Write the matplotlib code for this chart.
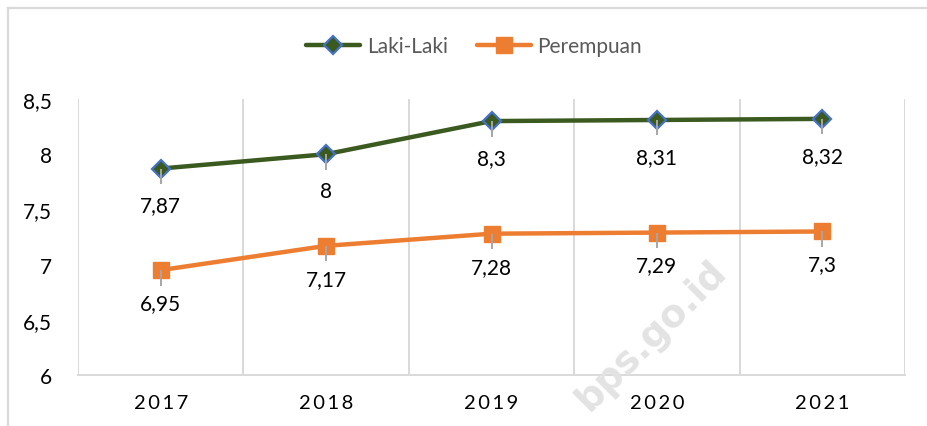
import matplotlib
matplotlib.use("Agg")
import matplotlib.pyplot as plt
from matplotlib.lines import Line2D

plt.rcParams['font.family'] = ['Lato', 'DejaVu Sans']

years = ["2017", "2018", "2019", "2020", "2021"]
laki = [7.87, 8.0, 8.3, 8.31, 8.32]
perempuan = [6.95, 7.17, 7.28, 7.29, 7.3]
y_ticks = [6, 6.5, 7, 7.5, 8, 8.5]

W, H, DPI = 927, 427, 100
fig = plt.figure(figsize=(W / DPI, H / DPI), dpi=DPI)
ax = fig.add_axes([78 / W, 1 - 376 / H, (905 - 78) / W, (376 - 100) / H])

x = list(range(len(years)))
green = "#3B5A1F"
orange = "#ED7D31"
grid_c = "#D9D9D9"
err_c = "#A6A6A6"

ax.plot(x, laki, color=green, lw=3.2, marker="D", ms=9, mfc=green,
        mec="#4472C4", mew=1.6, label="Laki-Laki", zorder=3,
        solid_capstyle="round")
ax.plot(x, perempuan, color=orange, lw=3.2, marker="s", ms=11.5, mfc=orange,
        mec=orange, label="Perempuan", zorder=3, solid_capstyle="round")

# short downward error whiskers
ax.errorbar(x, laki, yerr=[[0.14] * 5, [0] * 5], fmt="none", ecolor=err_c,
            elinewidth=1.4, capsize=0, zorder=4)
ax.errorbar(x, perempuan, yerr=[[0.14] * 5, [0] * 5], fmt="none", ecolor=err_c,
            elinewidth=1.4, capsize=0, zorder=4)

def fmt(v):
    s = ("%.2f" % v).rstrip("0").rstrip(".")
    return s.replace(".", ",")

for xi, v in zip(x, laki):
    ax.annotate(fmt(v), (xi, v), xytext=(0, -37), textcoords="offset pixels",
                ha="center", va="center", fontsize=15, color="#000000")
for xi, v in zip(x, perempuan):
    ax.annotate(fmt(v), (xi, v), xytext=(0, -33), textcoords="offset pixels",
                ha="center", va="center", fontsize=15, color="#000000")

ax.set_xlim(-0.5, len(years) - 0.5)
ax.set_ylim(6, 8.5)
ax.set_yticks(y_ticks)
ax.set_yticklabels([fmt(v) for v in y_ticks])
ax.set_xticks(x)
ax.set_xticklabels(["\u2009".join(y) for y in years])
ax.set_xticks([i - 0.5 for i in range(len(years) + 1)], minor=True)
ax.tick_params(axis="both", which="both", length=0)
ax.tick_params(axis="y", pad=19, labelsize=15)
ax.tick_params(axis="x", pad=14, labelsize=14.5)
ax.grid(False)
ax.grid(True, which="minor", axis="x", color=grid_c, lw=1.4)

for side in ["top", "right", "left"]:
    ax.spines[side].set_visible(False)
ax.spines["bottom"].set_color(grid_c)
ax.spines["bottom"].set_linewidth(1.4)

leg = fig.legend(loc="center", bbox_to_anchor=(474 / W, 1 - 47 / H), ncol=2,
                 frameon=False, fontsize=15, handlelength=2.6,
                 handletextpad=0.3, columnspacing=1.4)
for t in leg.get_texts():
    t.set_color("#595959")

# chart area border
fig.add_artist(Line2D([8 / W, 8 / W], [0, 1 - 9 / H], transform=fig.transFigure,
                      color=grid_c, lw=1.6))
fig.add_artist(Line2D([8 / W, 1], [1 - 9 / H, 1 - 9 / H], transform=fig.transFigure,
                      color=grid_c, lw=1.6))

# watermark
fig.text(652 / W, 1 - 336 / H, "bps.go.id", rotation=45, rotation_mode="anchor",
         ha="center", va="center", fontsize=27, fontweight="bold",
         color="#E3E3E3", family="DejaVu Sans", zorder=10)

fig.savefig("out.png", dpi=DPI)
